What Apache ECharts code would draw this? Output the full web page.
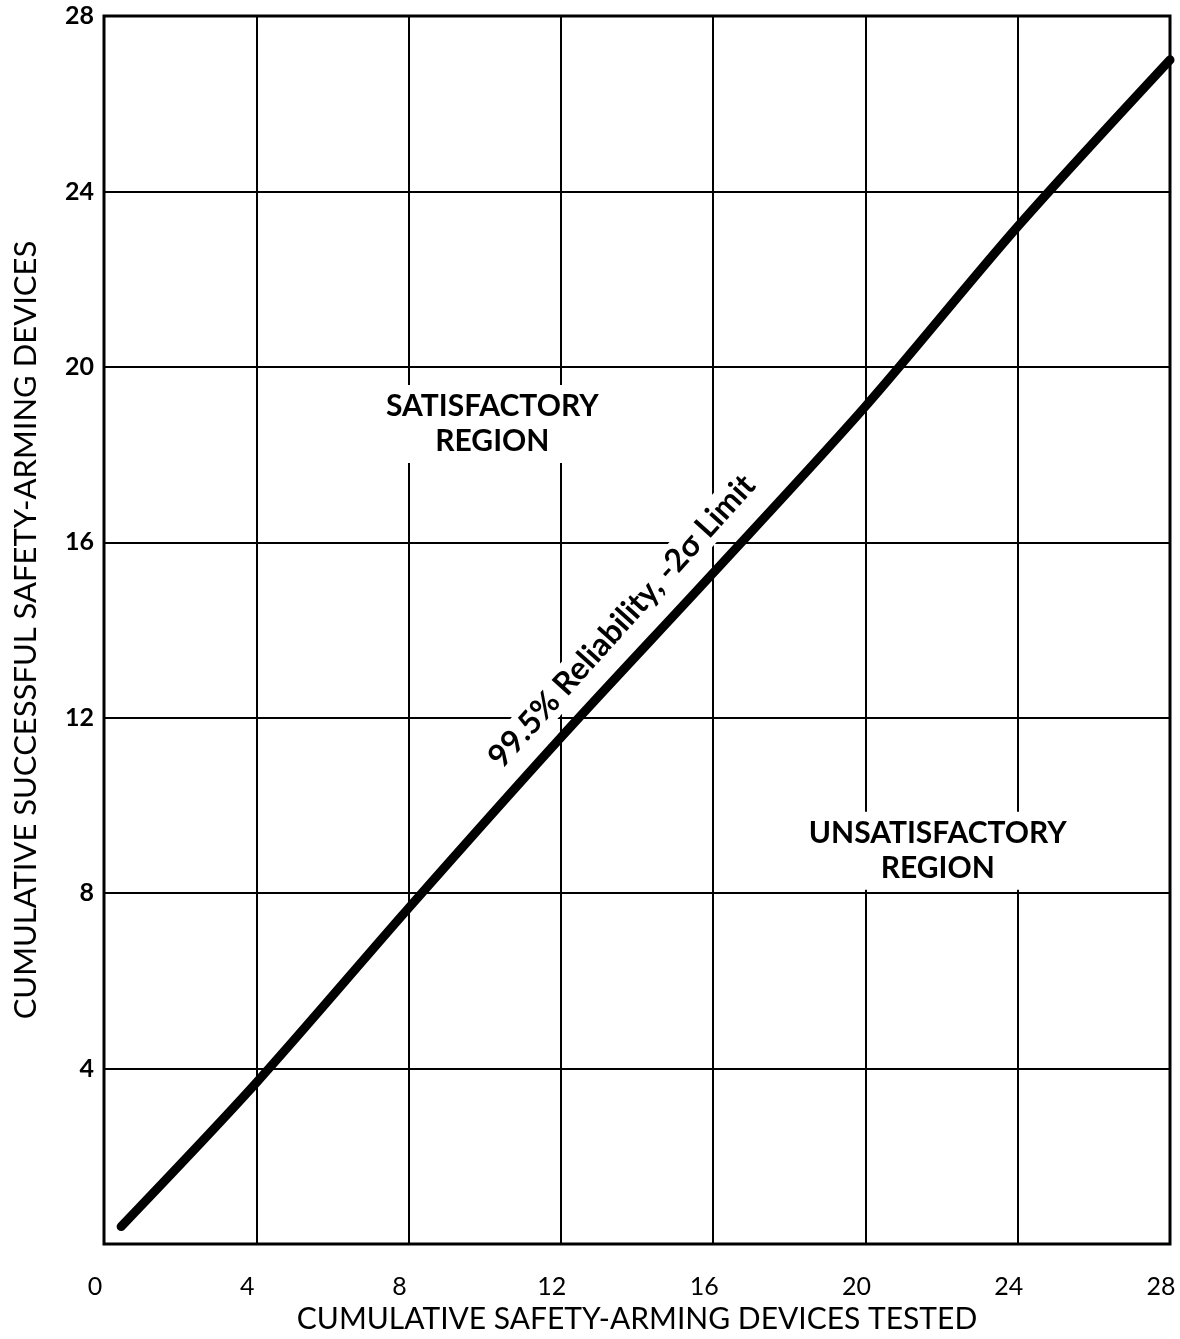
<!DOCTYPE html>
<html>
<head>
<meta charset="utf-8">
<script src="https://cdn.jsdelivr.net/npm/echarts@6/dist/echarts.min.js"></script>
<style>
  html, body { margin: 0; padding: 0; background: #fff; }
  #chart { width: 1180px; height: 1339px; }
</style>
</head>
<body>
<div id="chart"></div>
<script>
// values
const testedDevices = [0.45, 4, 8, 12, 16, 20, 24, 28]
const successfulDevices = [0.4, 3.68, 7.66, 11.55, 15.3, 19.1, 23.2, 27.0]

const axisMin = 0
const axisMax = 28
const axisStep = 4

const xTitle = 'CUMULATIVE SAFETY-ARMING DEVICES TESTED'
const yTitle = 'CUMULATIVE SUCCESSFUL SAFETY-ARMING DEVICES'

// text notes on the plot (data coordinates)
const noteText = ['SATISFACTORY\nREGION', 'UNSATISFACTORY\nREGION', '99.5% Reliability, -2σ Limit']
const noteX = [10.2, 21.9, 13.6]
const noteY = [18.7, 8.97, 14.2]
const noteAngle = [0, 0, 48]

const font = 'Lato, "DejaVu Sans", sans-serif'

const chart = echarts.init(document.getElementById('chart'))

const limitLine = testedDevices.map((x, i) => [x, successfulDevices[i]])

const notes = noteText.map((t, i) => ({
  value: [noteX[i], noteY[i]],
  label: {
    formatter: t,
    rotate: noteAngle[i],
    color: '#000',
    fontSize: noteAngle[i] ? 32 : 30,
    fontWeight: 'bold',
    lineHeight: 35,
    padding: noteAngle[i] ? [0, 4] : [4, 6],
  },
}))

const options = {
  backgroundColor: '#fff',
  animation: false,
  grid: {
    left: 104,
    right: 10,
    top: 16,
    bottom: 93,
    show: true,
    borderColor: '#000',
    borderWidth: 3,
    backgroundColor: '#fff',
  },
  xAxis: {
    type: 'value',
    min: axisMin,
    max: axisMax,
    interval: axisStep,
    name: xTitle,
    nameLocation: 'middle',
    nameGap: 57,
    nameTextStyle: { fontFamily: font, fontSize: 30, color: '#000' },
    axisLine: { show: false },
    axisTick: { show: false },
    splitLine: { lineStyle: { color: '#000', width: 2 } },
    axisLabel: {
      fontFamily: font,
      fontSize: 25,
      color: '#000',
      margin: 30,
      padding: [0, 18, 0, 0],
    },
  },
  yAxis: {
    type: 'value',
    min: axisMin,
    max: axisMax,
    interval: axisStep,
    name: yTitle,
    nameLocation: 'middle',
    nameGap: 63,
    nameTextStyle: { fontFamily: font, fontSize: 31, color: '#000' },
    axisLine: { show: false },
    axisTick: { show: false },
    splitLine: { lineStyle: { color: '#000', width: 2 } },
    axisLabel: {
      fontFamily: font,
      fontSize: 25,
      fontWeight: 'bold',
      color: '#000',
      margin: 10,
      showMinLabel: false,
    },
  },
  series: [
    {
      name: 'notes',
      type: 'scatter',
      z: 3,
      symbolSize: 1,
      // scatter defaults to 0.8 opacity, which greys the labels
      itemStyle: { color: '#fff', opacity: 1 },
      data: notes,
      label: {
        show: true,
        position: 'inside',
        align: 'center',
        verticalAlign: 'middle',
        color: '#000',
        fontFamily: font,
        backgroundColor: '#fff',
      },
      silent: true,
    },
    {
      name: '99.5% Reliability',
      type: 'line',
      z: 5,
      data: limitLine,
      smooth: 0.3,
      symbol: 'none',
      lineStyle: { color: '#000', width: 9, cap: 'round' },
    },
  ],
}

chart.setOption(options)
</script>
</body>
</html>
